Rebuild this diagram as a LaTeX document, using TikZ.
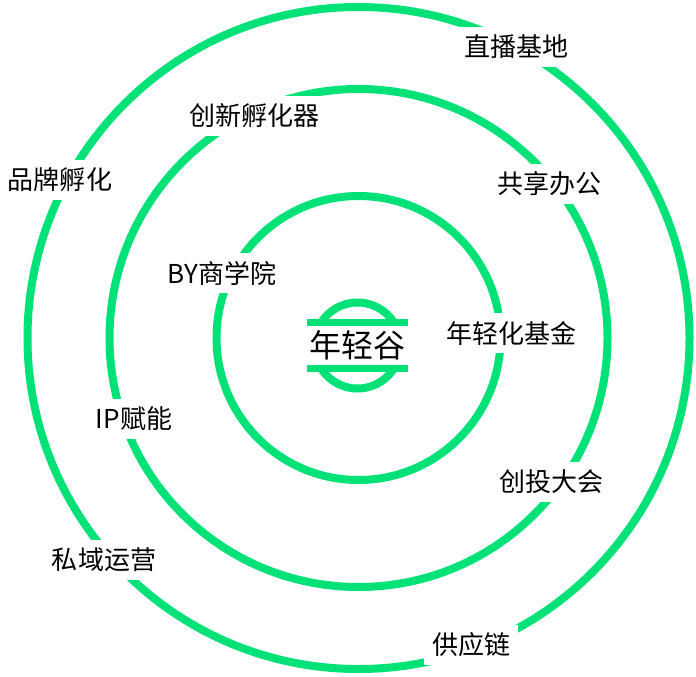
\documentclass[tikz,border=0pt]{standalone}
\usepackage{fontspec}
\newfontfamily\cjk{Noto Sans CJK SC}
\definecolor{ringgreen}{HTML}{00E178}

\begin{document}
\begin{tikzpicture}[x=1bp,y=-1bp,
	ring/.style={draw=ringgreen, line width=8bp},
	tag/.style={fill=white, inner sep=8bp, font=\cjk\fontsize{26bp}{26bp}\selectfont}]
		\useasboundingbox[fill=white] (0,0) rectangle (696,677);
		\coordinate (c) at (358.5,338);
		\draw[ring] (c) circle[radius=331];
		\draw[ring] (c) circle[radius=249];
		\draw[ring] (c) circle[radius=142];
		% outer ring
		\node (live) [tag] at (516,47) {直播基地};
		\node (brand) [tag] at (60,180) {品牌孵化};
		\node (private) [tag] at (104,560) {私域运营};
		\node (supply) [tag] at (471,645) {供应链};
		% middle ring
		\node (incub) [tag] at (254,116) {创新孵化器};
		\node (office) [tag] at (549,184) {共享办公};
		\node (ip) [tag] at (134,419) {IP赋能};
		\node (pitch) [tag] at (551,482) {创投大会};
		% inner ring
		\node (school) [tag] at (222,273) {BY商学院};
		\node (fund) [tag] at (511,333) {年轻化基金};
		% logo
		\draw[ring] (357.5,345.5) circle[radius=43];
		\node (logo) [fill=white, inner sep=0pt, minimum width=101bp, minimum height=46bp,
			font=\cjk\fontsize{32bp}{32bp}\selectfont] at (357.5,345.5) {年轻谷};
		\draw[ringgreen, line width=7bp] (logo.north west) -- (logo.north east);
		\draw[ringgreen, line width=7bp] (logo.south west) -- (logo.south east);
		\end{tikzpicture}
\end{document}
